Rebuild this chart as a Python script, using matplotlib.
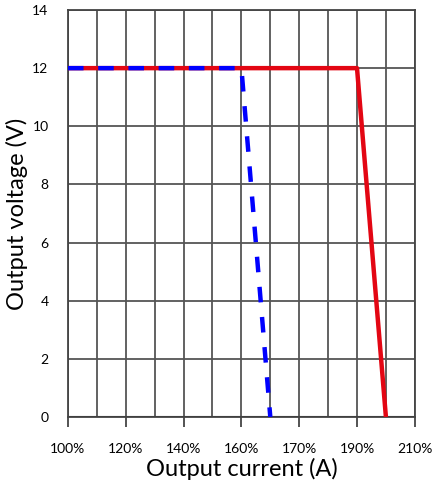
#!/usr/bin/env python3
import matplotlib
matplotlib.use('Agg')
import matplotlib.pyplot as plt
import numpy as np

# x positions are grid steps (12 steps across the axis)
x_labels = ['100%', '120%', '140%', '160%', '170%', '190%', '210%']
x_label_pos = [0, 2, 4, 6, 8, 10, 12]

red_x = [0, 10, 11]
red_y = [12, 12, 0]
blue_x = [0, 6, 7]
blue_y = [12, 12, 0]

y_ticks = [0, 2, 4, 6, 8, 10, 12, 14]

plt.rcParams['font.family'] = ['Lato', 'DejaVu Sans']

fig = plt.figure(figsize=(4.33, 4.88), dpi=100)
ax = fig.add_axes([0.157, 0.1455, 0.801, 0.834])

for gx in range(0, 13):
    ax.axvline(gx, color='#555555', lw=1.3, zorder=1)
for gy in y_ticks:
    ax.axhline(gy, color='#555555', lw=1.3, zorder=1)
ax.axhline(0, color='#222222', lw=1.5, zorder=1)

ax.plot(red_x, red_y, color='#e30613', lw=3.2, zorder=3, solid_capstyle='butt')
ax.plot(blue_x, blue_y, color='#0000ff', lw=3.2, zorder=4,
        dashes=(3.5, 3.3), dash_capstyle='butt')

ax.set_xlim(0, 12)
ax.set_ylim(0, 14)
ax.set_xticks(x_label_pos)
ax.set_xticklabels(x_labels, fontsize=10)
ax.set_yticks(y_ticks)
ax.set_yticklabels([str(v) for v in y_ticks], fontsize=10)
ax.tick_params(axis='x', direction='out', length=7.5, width=1.3, color='#444444', pad=11)
ax.tick_params(axis='y', length=0, pad=14)
for s in ax.spines.values():
    s.set_color('#444444')
    s.set_linewidth(1.3)

ax.set_xlabel('Output current (A)', fontsize=17, labelpad=2)
ax.set_ylabel('Output voltage (V)', fontsize=17, labelpad=3)

fig.savefig('out.png', dpi=100)
